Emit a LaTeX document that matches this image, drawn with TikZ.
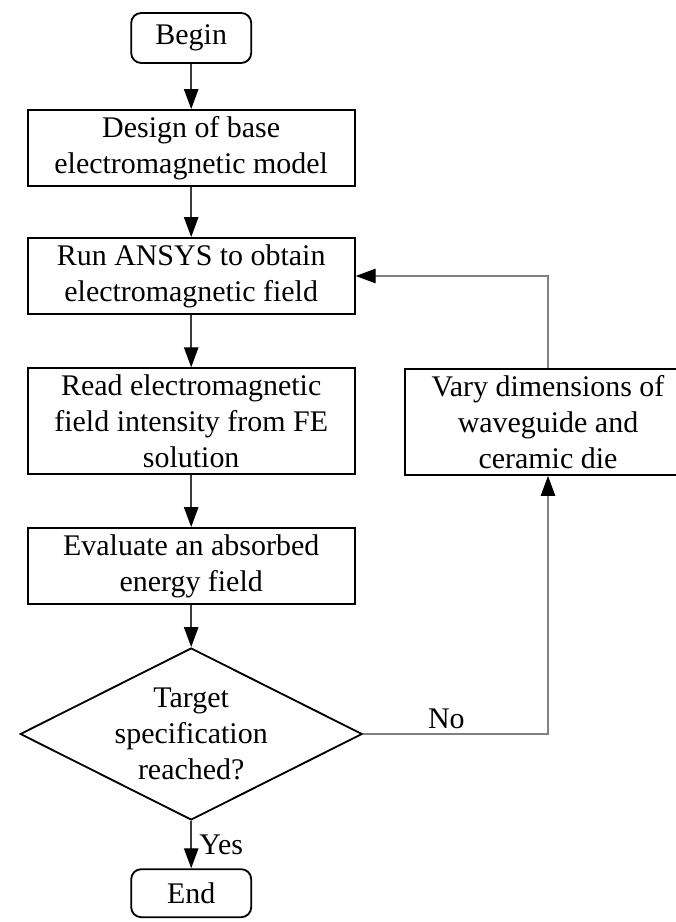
\documentclass[tikz,border=0pt]{standalone}
\usepackage{fontspec}
\setmainfont{Liberation Serif}
\usepackage{tikz}
\usetikzlibrary{shapes.geometric,arrows.meta,positioning}
\definecolor{LineGray}{RGB}{60,60,60}
\definecolor{LoopGray}{RGB}{128,128,128}

\begin{document}
\begin{tikzpicture}[
  font=\fontsize{21.3}{25.6}\selectfont,
  procblk/.style={draw=black,line width=1.3pt,minimum width=8.18cm,minimum height=1.9cm,
                  align=center,inner sep=2pt},
  termblk/.style={draw=black,line width=1.3pt,rounded corners=0.25cm,minimum width=3cm,
                  minimum height=1.25cm,align=center},
  testblk/.style={draw=black,line width=1.3pt,diamond,aspect=2,minimum width=8.55cm,
                  minimum height=4.3cm,inner sep=0pt,align=center},
  flow/.style={draw=LineGray,line width=1pt,-{Triangle[length=0.5cm,width=0.36cm,black]}},
  back/.style={draw=LoopGray,line width=1pt,-{Triangle[length=0.5cm,width=0.36cm,black]}},
]
\useasboundingbox (0,0) rectangle (16.9,23.05);
\clip (0,0) rectangle (16.9,23.05);
% main column
\node[termblk] (begin) at (4.78,22.1) {Begin};
\node[procblk] (design) at (4.78,19.35) {Design of base\\electromagnetic model};
\node[procblk] (run) at (4.78,16.15) {Run ANSYS to obtain\\electromagnetic field};
\node[procblk,minimum height=2.65cm] (read) at (4.78,12.52)
  {Read electromagnetic\\field intensity from FE\\solution};
\node[procblk] (eval) at (4.78,8.9) {Evaluate an absorbed\\energy field};
\node[testblk] (target) at (4.78,4.7) {Target\\specification\\reached?};
\node[termblk,minimum height=1.2cm] (finish) at (4.78,0.72) {End};
% side branch
\node[procblk,minimum width=7.15cm,minimum height=2.65cm] (vary) at (13.7,12.5)
  {Vary dimensions of\\waveguide and\\ceramic die};

\draw[flow] (begin) -- (design);
\draw[flow] (design) -- (run);
\draw[flow] (run) -- (read);
\draw[flow] (read) -- (eval);
\draw[flow] (eval) -- (target);
\draw[flow] (target) -- node[right,xshift=2pt] {Yes} (finish);
\draw[back] (target.east) -- node[above,pos=0.45] {No} (target.east -| vary.south) -- (vary.south);
\draw[back] (vary.north) |- (run.east);
\end{tikzpicture}
\end{document}
